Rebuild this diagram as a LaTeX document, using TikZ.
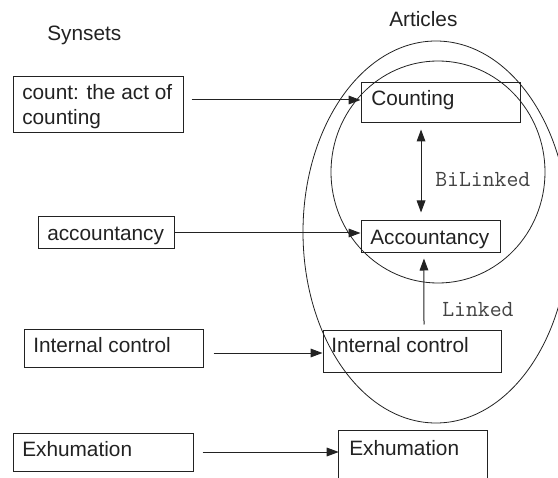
\documentclass[tikz,border=0pt]{standalone}
\usepackage{fontspec}
\setmainfont{Liberation Sans}
\usetikzlibrary{arrows.meta,fit,calc}
\definecolor{ink}{HTML}{222222}
\begin{document}
\begin{tikzpicture}[x=0.75pt,y=-0.75pt,
 box/.style={draw=ink, line width=0.75pt, inner sep=0pt},
 lbl/.style={inner sep=0pt, anchor=base west, font=\fontsize{15.6}{18}\selectfont, text=ink},
 mono/.style={inner sep=0pt, anchor=base west, font=\fontsize{17.3}{20}\selectfont\ttfamily, text=ink!85},
 arr/.style={draw=ink, line width=0.75pt, -{Triangle[length=9pt,width=6.5pt]}},
 biarr/.style={draw=ink, line width=0.75pt, {Triangle[length=9pt,width=6.5pt]}-{Triangle[length=9pt,width=6.5pt]}},
 ell/.style={draw=ink, line width=0.6pt}]
\useasboundingbox (0,0) rectangle (558,478);
\clip (0,0) rectangle (558,478);
% ellipses
\draw[ell] (436,232) ellipse [x radius=133, y radius=191];
\draw[ell] (438,172) ellipse [x radius=107, y radius=111];
% boxes
\node[box, fit={(13,77)(183,133)}] (countL) {};
\node[box, fit={(38,217)(174,249)}] (accL) {};
\node[box, fit={(24,329)(203,367)}] (intL) {};
\node[box, fit={(13,433)(193,471)}] (exL) {};
\node[box, fit={(361,83)(520,123)}] (cntR) {};
\node[box, fit={(361,221)(500,253)}] (accR) {};
\node[box, fit={(323,330)(501,372)}] (intR) {};
\node[inner sep=0pt, fit={(339,431)(487,482)}] (exR) {};
\draw[ink, line width=0.75pt] (exR.south west) -- (exR.north west) -- (exR.north east) -- (exR.south east);
% texts
\node[lbl] (syn) at (47,40.5) {Synsets};
\node[lbl] (art) at (389,26.5) {Articles};
\node[lbl] (t1) at (22,100) {count: the act of};
\node[lbl] (t2) at (22,124.5) {counting};
\node[lbl] (t3) at (47,241) {accountancy};
\node[lbl] (t4) at (33,353) {Internal control};
\node[lbl] (t5) at (22,456.5) {Exhumation};
\node[lbl] (t6) at (371,106) {Counting};
\node[lbl] (t7) at (370,244) {Accountancy};
\node[lbl] (t8) at (331,353) {Internal control};
\node[lbl] (t9) at (349,455) {Exhumation};
\node[mono] (bl) at (435,187) {BiLinked};
\node[mono] (lk) at (442,316) {Linked};
% connectors
\draw[arr] ($(countL.east)+(8,-5)$) -- ($(countL.east -| cntR.west)+(0,-5)$);
\draw[arr] (accL.east) -- (accL.east -| accR.west);
\draw[arr] ($(intL.east)+(10,5)$) -- ($(intL.east -| intR.west)+(0,5)$);
\draw[arr] ($(exL.east)+(9,0)$) -- (exL.east -| exR.west);
\draw[biarr] ([xshift=-14.6pt,yshift=-4.5pt]cntR.south) -- ([xshift=-7.1pt,yshift=6pt]accR.north);
\draw[arr] ([xshift=9pt,yshift=3.75pt]intR.north) -- ([xshift=-4.9pt,yshift=-3.75pt]accR.south);
\end{tikzpicture}
\end{document}
